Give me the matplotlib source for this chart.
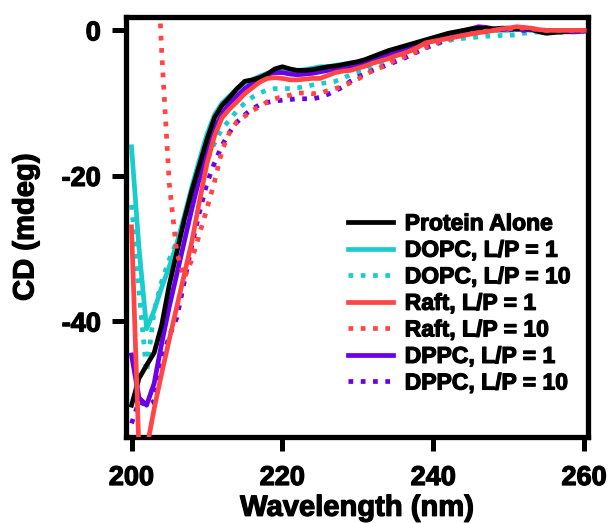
import matplotlib
matplotlib.use("Agg")
import matplotlib.pyplot as plt
import matplotlib.patheffects as pe
import numpy as np

plt.rcParams['font.family'] = ['Liberation Sans', 'DejaVu Sans']
plt.rcParams['font.weight'] = 'bold'
plt.rcParams['axes.unicode_minus'] = False

# wavelength grid (nm), 1 nm steps
wavelength = np.arange(200, 261)

protein_alone = [-51.5, -47.8, -46, -44.3, -40.5, -35, -30.5, -26, -22, -18.5,
                 -15, -12, -10.3, -9.2, -8, -7, -6.8, -6.5, -6, -5.3,
                 -5.0, -5.3, -5.5, -5.5, -5.4, -5.2, -5.0, -4.9, -4.7, -4.5,
                 -4.3, -4.0, -3.6, -3.2, -2.8, -2.5, -2.2, -1.9, -1.6, -1.3,
                 -1.0, -0.7, -0.4, -0.2, 0.0, 0.2, 0.3, 0.3, 0.2, 0.3,
                 0.3, 0.2, 0.3, 0.2, -0.2, -0.4, -0.3, -0.2, -0.1, 0.0, 0.0]

dopc_1 = [-16, -30, -41, -38.5, -35.3, -32.5, -29.3, -25.5, -21.5, -17.8,
          -14.3, -11.6, -10, -9, -8, -7.2, -6.8, -6.3, -5.9, -5.6,
          -5.5, -5.5, -5.5, -5.4, -5.2, -5.0, -5.0, -4.8, -4.7, -4.5,
          -4.4, -4.1, -3.7, -3.3, -3.0, -2.6, -2.3, -2.0, -1.7, -1.4,
          -1.1, -0.8, -0.6, -0.4, -0.3, -0.2, -0.2, -0.1, 0.0, 0.0,
          0.0, 0.1, 0.1, 0.0, -0.1, -0.2, -0.1, 0.0, 0.0, -0.1, -0.1]

dopc_10 = [-24, -36, -47, -38.5, -34.5, -31.5, -29, -26.5, -23.5, -20.5,
           -18, -15.5, -13.5, -12.3, -11, -10, -9.2, -8.6, -8.2, -8.0,
           -8.0, -8.0, -7.9, -7.7, -7.5, -7.3, -7.2, -7.0, -6.6, -6.1,
           -5.8, -5.6, -5.0, -4.6, -4.3, -4.0, -3.6, -3.2, -2.8, -2.4,
           -2.0, -1.7, -1.4, -1.2, -1.1, -1.0, -0.9, -0.8, -0.8, -0.7,
           -0.7, -0.6, -0.4, -0.3, -0.2, -0.2, -0.3, -0.3, -0.2, -0.2, -0.2]

raft_1 = [-27, -58, -57.5, -52, -47.1, -42.5, -38, -33.5, -29, -23.5,
          -18.3, -14.5, -12, -10.8, -9.8, -8.7, -7.9, -7.1, -6.6, -6.5,
          -6.6, -6.8, -6.8, -6.7, -6.6, -6.6, -6.2, -5.8, -5.6, -5.5,
          -5.2, -4.9, -4.5, -4.2, -3.9, -3.5, -3.2, -2.8, -2.3, -1.7,
          -1.5, -1.3, -1.1, -0.9, -0.7, -0.5, -0.3, -0.2, 0.0, 0.2,
          0.3, 0.5, 0.4, 0.3, 0.1, 0.0, 0.0, 0.0, 0.0, 0.0, 0.0]

raft_10 = [60, 55, 45, 20, -3, -21, -30.5, -34, -31.5, -28,
           -24.5, -20.8, -16.5, -14, -12.5, -11.8, -11, -10.5, -9.8, -9.4,
           -9.1, -8.9, -8.6, -8.6, -8.7, -8.6, -8.3, -8.0, -7.7, -7.2,
           -6.7, -6.1, -5.5, -5.1, -4.6, -4.1, -3.7, -3.3, -2.8, -2.3,
           -1.9, -1.5, -1.2, -0.9, -0.7, -0.5, -0.3, -0.1, 0.0, 0.1,
           0.2, 0.3, 0.3, 0.2, 0.1, 0.0, 0.0, 0.0, 0.0, 0.0, 0.0]

dppc_1 = [-44.6, -50.5, -51.5, -48.5, -43, -38, -33.5, -29, -24.5, -20.3,
          -16.5, -13.5, -11.5, -10, -9, -8, -7.3, -6.6, -6.0, -5.8,
          -5.8, -6.0, -6.1, -6.0, -5.9, -5.7, -5.5, -5.3, -5.1, -5.0,
          -4.7, -4.4, -4.0, -3.6, -3.3, -2.9, -2.6, -2.2, -1.8, -1.4,
          -1.1, -0.8, -0.6, -0.3, -0.1, 0.2, 0.5, 0.4, 0.2, 0.1,
          0.2, 0.2, 0.1, 0.1, 0.0, -0.1, -0.1, -0.2, -0.2, -0.2, -0.1]

dppc_10 = [-54, -51, -51.5, -51, -45.5, -42, -39.5, -34.5, -29.5, -25,
           -21, -18.2, -15.8, -14, -12.6, -11.6, -10.8, -10.2, -9.9, -9.7,
           -9.6, -9.5, -9.4, -9.4, -9.4, -9.2, -8.8, -8.3, -7.8, -7.0,
           -6.4, -6.0, -5.5, -5.1, -4.7, -4.3, -3.9, -3.4, -2.9, -2.4,
           -2.0, -1.6, -1.2, -0.9, -0.6, -0.3, -0.1, 0.0, 0.1, 0.1,
           0.1, 0.1, 0.0, 0.0, 0.0, 0.0, 0.0, -0.1, -0.1, -0.1, -0.1]

labels = ["Protein Alone", "DOPC, L/P = 1", "DOPC, L/P = 10",
          "Raft, L/P = 1", "Raft, L/P = 10", "DPPC, L/P = 1", "DPPC, L/P = 10"]

black = "#000000"
cyan = "#1ACCCC"
red = "#FF4545"
purple = "#6A00E8"

# heavier strokes so the bold text looks like the original
heavy = [pe.withStroke(linewidth=0.9, foreground='black')]

fig = plt.figure(figsize=(6.08, 5.23), dpi=100)
ax = fig.add_axes([0.207, 0.164, 0.760, 0.803])

dot = (0, (1, 1.6))
lw = 3.4
ax.plot(wavelength, protein_alone, color=black, lw=lw, label=labels[0], zorder=4)
ax.plot(wavelength, dopc_1, color=cyan, lw=lw, label=labels[1], zorder=2)
ax.plot(wavelength, dopc_10, color=cyan, lw=lw, ls=dot, label=labels[2], zorder=2)
ax.plot(wavelength, raft_1, color=red, lw=lw, label=labels[3], zorder=5)
ax.plot(wavelength, raft_10, color=red, lw=lw, ls=dot, label=labels[4], zorder=5)
ax.plot(wavelength, dppc_1, color=purple, lw=lw, label=labels[5], zorder=3)
ax.plot(wavelength, dppc_10, color=purple, lw=lw, ls=dot, label=labels[6], zorder=3)

ax.set_xlim(199.25, 260.5)
ax.set_ylim(-55.9, 1.8)
ax.set_xticks([200, 220, 240, 260])
ax.set_yticks([0, -20, -40])

for s in ax.spines.values():
    s.set_linewidth(3.8)
ax.tick_params(axis='both', direction='out', length=10, width=3.6, labelsize=19.5)
ax.tick_params(axis='x', pad=10)
ax.tick_params(axis='y', pad=8)
for t in ax.get_xticklabels() + ax.get_yticklabels():
    t.set_fontweight('bold')
    t.set_path_effects(heavy)

ax.set_xlabel("Wavelength (nm)", fontsize=21, fontweight='bold', labelpad=2,
              path_effects=heavy)
ax.set_ylabel("CD (mdeg)", fontsize=21, fontweight='bold', labelpad=16,
              path_effects=heavy)

leg = ax.legend(loc='upper left', bbox_to_anchor=(0.4805, 0.536), frameon=False,
                fontsize=16.5, handlelength=1.96, handletextpad=0.52,
                labelspacing=0.155, borderpad=0, borderaxespad=0)
for t in leg.get_texts():
    t.set_fontweight('bold')
    t.set_path_effects(heavy)

fig.savefig("out.png", dpi=100)
